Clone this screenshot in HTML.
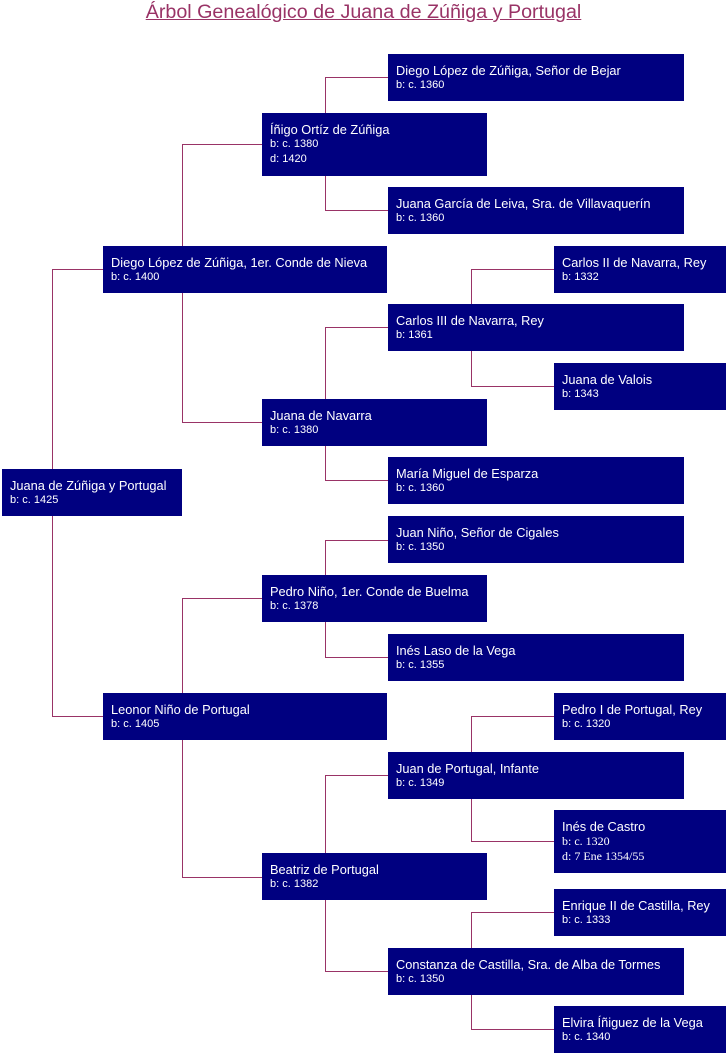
<!DOCTYPE html>
<html>
<head>
<meta charset="utf-8">
<style>
  html, body { margin:0; padding:0; background:#fff; }
  body { width:727px; height:1055px; position:relative; overflow:hidden; font-family:"Liberation Sans", Arial, sans-serif; }
  .title { position:absolute; left:0; top:1px; width:727px; text-align:center; font-size:19.7px; line-height:23px; color:#993366; text-decoration:underline; }
  .b { position:absolute; background:#000080; color:#fff; box-sizing:border-box; padding:10px 0 0 8px; white-space:nowrap; height:47px; }
  .b.t { height:63px; }
  .n { font-size:12.8px; line-height:14px; }
  .d { font-size:11px; line-height:14px; }
  .d3 { font-size:11px; line-height:14px; margin-top:1px; }
  .s { font-family:"Liberation Serif", serif; font-size:12px; line-height:14px; }
  .c0 { left:2px; width:180px; }
  .c1 { left:103px; width:284px; }
  .c2 { left:262px; width:225px; }
  .c3 { left:388px; width:296px; }
  .c4 { left:554px; width:172px; }
  .v { position:absolute; width:1px; background:#993366; }
  .h { position:absolute; height:1px; background:#993366; }
</style>
</head>
<body>
<div class="title">Árbol Genealógico de Juana de Zúñiga y Portugal</div>

<!-- connectors: verticals -->
<div class="v" style="left:52px; top:269px; height:448px;"></div>
<div class="v" style="left:182px; top:144px; height:279px;"></div>
<div class="v" style="left:182px; top:598px; height:280px;"></div>
<div class="v" style="left:325px; top:77px; height:134px;"></div>
<div class="v" style="left:325px; top:327px; height:154px;"></div>
<div class="v" style="left:325px; top:540px; height:118px;"></div>
<div class="v" style="left:325px; top:775px; height:197px;"></div>
<div class="v" style="left:471px; top:269px; height:118px;"></div>
<div class="v" style="left:471px; top:716px; height:126px;"></div>
<div class="v" style="left:471px; top:912px; height:118px;"></div>

<!-- connectors: horizontals -->
<div class="h" style="left:52px; top:269px; width:51px;"></div>
<div class="h" style="left:52px; top:716px; width:51px;"></div>
<div class="h" style="left:182px; top:144px; width:80px;"></div>
<div class="h" style="left:182px; top:422px; width:80px;"></div>
<div class="h" style="left:182px; top:598px; width:80px;"></div>
<div class="h" style="left:182px; top:877px; width:80px;"></div>
<div class="h" style="left:325px; top:77px; width:63px;"></div>
<div class="h" style="left:325px; top:210px; width:63px;"></div>
<div class="h" style="left:325px; top:327px; width:63px;"></div>
<div class="h" style="left:325px; top:480px; width:63px;"></div>
<div class="h" style="left:325px; top:540px; width:63px;"></div>
<div class="h" style="left:325px; top:657px; width:63px;"></div>
<div class="h" style="left:325px; top:775px; width:63px;"></div>
<div class="h" style="left:325px; top:971px; width:63px;"></div>
<div class="h" style="left:471px; top:269px; width:83px;"></div>
<div class="h" style="left:471px; top:386px; width:83px;"></div>
<div class="h" style="left:471px; top:716px; width:83px;"></div>
<div class="h" style="left:471px; top:841px; width:83px;"></div>
<div class="h" style="left:471px; top:912px; width:83px;"></div>
<div class="h" style="left:471px; top:1029px; width:83px;"></div>

<!-- column 0 -->
<div class="b c0" style="top:469px;"><div class="n">Juana de Zúñiga y Portugal</div><div class="d">b: c. 1425</div></div>

<!-- column 1 -->
<div class="b c1" style="top:246px;"><div class="n">Diego López de Zúñiga, 1er. Conde de Nieva</div><div class="d">b: c. 1400</div></div>
<div class="b c1" style="top:693px;"><div class="n">Leonor Niño de Portugal</div><div class="d">b: c. 1405</div></div>

<!-- column 2 -->
<div class="b t c2" style="top:113px;"><div class="n">Íñigo Ortíz de Zúñiga</div><div class="d">b: c. 1380</div><div class="d3">d: 1420</div></div>
<div class="b c2" style="top:399px;"><div class="n">Juana de Navarra</div><div class="d">b: c. 1380</div></div>
<div class="b c2" style="top:575px;"><div class="n">Pedro Niño, 1er. Conde de Buelma</div><div class="d">b: c. 1378</div></div>
<div class="b c2" style="top:853px;"><div class="n">Beatriz de Portugal</div><div class="d">b: c. 1382</div></div>

<!-- column 3 -->
<div class="b c3" style="top:54px;"><div class="n">Diego López de Zúñiga, Señor de Bejar</div><div class="d">b: c. 1360</div></div>
<div class="b c3" style="top:187px;"><div class="n">Juana García de Leiva, Sra. de Villavaquerín</div><div class="d">b: c. 1360</div></div>
<div class="b c3" style="top:304px;"><div class="n">Carlos III de Navarra, Rey</div><div class="d">b: 1361</div></div>
<div class="b c3" style="top:457px;"><div class="n">María Miguel de Esparza</div><div class="d">b: c. 1360</div></div>
<div class="b c3" style="top:516px;"><div class="n">Juan Niño, Señor de Cigales</div><div class="d">b: c. 1350</div></div>
<div class="b c3" style="top:634px;"><div class="n">Inés Laso de la Vega</div><div class="d">b: c. 1355</div></div>
<div class="b c3" style="top:752px;"><div class="n">Juan de Portugal, Infante</div><div class="d">b: c. 1349</div></div>
<div class="b c3" style="top:948px;"><div class="n">Constanza de Castilla, Sra. de Alba de Tormes</div><div class="d">b: c. 1350</div></div>

<!-- column 4 -->
<div class="b c4" style="top:246px;"><div class="n">Carlos II de Navarra, Rey</div><div class="d">b: 1332</div></div>
<div class="b c4" style="top:363px;"><div class="n">Juana de Valois</div><div class="d">b: 1343</div></div>
<div class="b c4" style="top:693px;"><div class="n">Pedro I de Portugal, Rey</div><div class="d">b: c. 1320</div></div>
<div class="b t c4" style="top:810px;"><div class="n">Inés de Castro</div><div class="s">b: c. 1320</div><div class="s" style="margin-top:1px;">d: 7 Ene 1354/55</div></div>
<div class="b c4" style="top:889px;"><div class="n">Enrique II de Castilla, Rey</div><div class="d">b: c. 1333</div></div>
<div class="b c4" style="top:1006px;"><div class="n">Elvira Íñiguez de la Vega</div><div class="d">b: c. 1340</div></div>
</body>
</html>
